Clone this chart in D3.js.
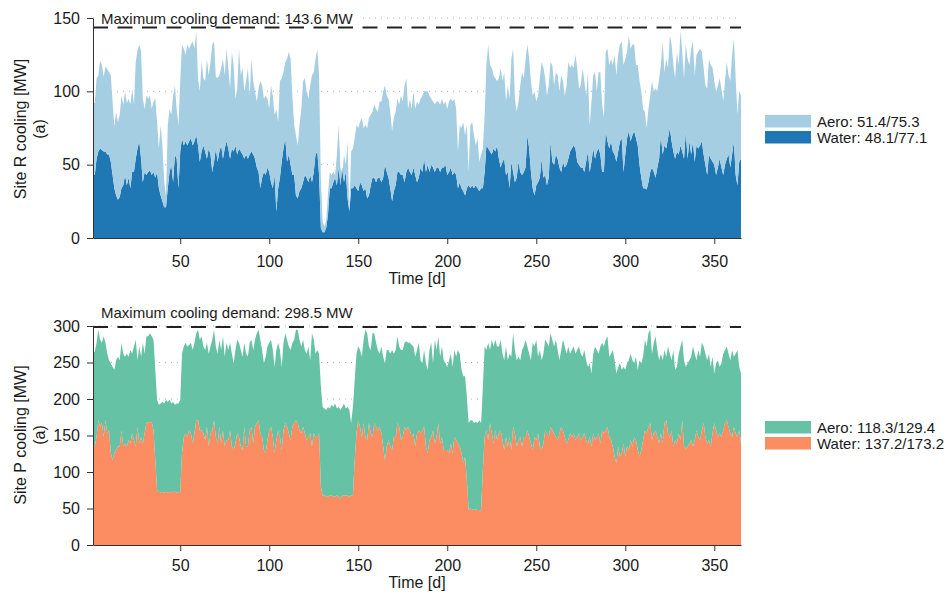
<!DOCTYPE html>
<html>
<head>
<meta charset="utf-8">
<script src="https://cdn.jsdelivr.net/npm/d3@7/dist/d3.min.js"></script>
<style>
body { margin: 0; background: #fff; }
svg { font-family: "Liberation Sans", Arial, Helvetica, sans-serif; }
.grid line { stroke: #b5b5b5; stroke-dasharray: 1,5; }
.axis text { font-size: 16px; fill: #1a1a1a; }
.axis line, .axis path { stroke: #333; }
</style>
</head>
<body>
<svg id="chart" width="945" height="596"></svg>
<script>
// daily values, day 1..365
var rTotal = [
	92,92,109,111,121,118,110,117,115,113,111,93,76,86,79,84,97,91,100,92,
	95,91,102,91,120,128,132,127,95,88,97,95,97,88,93,95,79,61,77,63,
	38,29,77,88,84,97,104,88,77,107,132,129,125,132,129,132,134,129,141,109,
	100,120,109,107,122,111,120,132,134,110,109,111,116,122,111,129,116,102,127,118,
	95,102,129,111,116,100,107,116,97,122,107,100,93,102,107,104,95,97,95,88,
	104,97,84,88,79,107,109,113,120,122,127,122,97,77,70,63,77,88,107,109,
	100,95,104,
	111,113,122,129,111,40,11,8,12,30,45,43,45,43,57,77,48,43,57,50,
	66,18,59,61,68,77,75,79,82,75,77,75,82,84,86,91,88,86,93,93,
	100,104,97,95,86,73,82,86,95,91,97,93,104,109,88,95,88,100,88,93,
	91,95,97,100,100,100,97,95,93,91,93,93,91,95,91,93,88,93,95,93,
	95,88,59,77,75,79,70,77,45,77,79,70,63,68,52,57,61,84,118,132,
	118,116,111,109,107,109,116,107,113,93,104,95,122,129,95,86,93,104,113,
	109,122,132,122,107,97,100,93,97,109,120,116,109,97,104,120,118,104,113,111,
	100,111,107,97,104,120,116,118,116,125,116,102,104,116,107,97,113,77,93,111,
	113,100,113,113,91,82,127,129,118,122,118,125,111,125,132,134,118,122,127,138,
	129,132,132,118,118,107,100,88,86,75,88,97,107,100,102,100,109,118,134,113,
	122,116,138,132,118,109,127,118,141,127,109,132,122,118,129,134,111,125,127,129,
	127,116,104,102,122,118,116,107,100,104,109,102,93,107,120,111,107,125,136,109,
	84,100,97
];
var rWater = [
	43,43,54,59,61,60,59,59,57,57,52,43,34,29,26,28,34,36,43,36,
	41,34,45,45,54,61,66,54,38,45,43,45,46,43,45,41,45,34,29,25,
	21,21,34,45,50,38,57,54,34,59,68,63,66,63,66,68,63,66,70,63,
	52,59,63,59,54,61,57,45,52,61,52,59,63,54,61,66,61,54,61,59,
	63,57,61,59,57,54,57,54,57,59,57,54,48,45,34,41,45,43,48,45,
	38,34,43,18,34,41,52,61,68,52,57,50,43,43,29,27,32,34,38,43,
	41,38,43,
	38,45,57,59,43,7,4,4,7,16,34,34,38,41,36,48,36,48,38,45,
	27,18,34,34,36,34,32,38,36,32,34,27,29,36,41,41,38,41,41,38,
	41,50,45,41,34,25,32,36,45,45,43,43,38,45,48,45,43,48,43,38,
	41,48,45,54,45,50,45,50,48,45,48,48,45,48,48,50,43,45,48,43,
	45,43,34,38,34,32,29,34,36,34,36,34,36,34,32,34,34,45,63,61,
	59,57,61,59,63,54,48,52,54,43,45,34,52,45,38,41,52,45,43,
	45,48,70,61,45,34,29,36,38,41,54,41,43,36,41,66,52,50,57,54,
	48,45,52,48,50,54,59,61,63,61,52,50,48,48,45,52,59,45,52,61,
	54,59,61,57,45,45,73,66,61,66,59,57,52,59,66,68,45,57,68,73,
	66,70,73,68,63,50,41,34,34,33,38,45,48,45,41,48,54,70,57,63,
	61,68,75,66,59,54,59,57,63,59,54,73,54,66,57,66,52,63,61,63,
	66,57,50,43,57,54,52,50,43,48,54,48,43,50,54,57,48,57,66,43,
	36,52,54
];
var pTotal = [
	262,265,277,295,281,277,286,277,262,253,249,244,240,253,258,253,277,262,258,262,
	258,267,262,272,281,253,272,258,277,262,286,286,290,286,281,240,199,192,194,196,
	194,199,196,199,194,196,192,194,194,199,262,272,277,272,274,277,267,277,290,295,
	281,286,272,267,277,262,272,281,295,272,262,281,267,286,258,277,267,277,262,249,
	267,281,277,267,258,277,262,258,277,281,267,281,290,295,281,267,249,258,272,277,
	281,267,244,267,277,267,244,277,290,281,272,267,277,281,295,295,281,272,281,267,
	262,272,253,
	290,281,262,267,262,217,189,187,185,189,187,192,189,194,187,189,185,189,194,187,
	189,185,167,189,226,262,272,267,258,281,295,290,272,267,290,290,277,267,262,272,
	258,249,267,267,262,267,262,267,286,272,267,267,277,279,277,277,274,272,258,267,
	277,253,249,267,249,240,267,277,249,281,267,286,258,272,253,249,244,253,262,244,
	267,258,267,262,240,231,231,203,167,171,171,167,169,167,171,167,217,272,267,277,
	267,281,272,281,272,272,281,262,253,272,253,262,258,290,267,253,258,253,267,
	272,281,272,262,253,277,272,281,258,267,253,262,281,277,272,290,281,272,281,267,
	253,267,281,272,262,272,262,267,272,262,267,272,262,258,267,253,244,249,235,262,
	272,267,262,272,277,272,281,286,258,262,267,253,235,244,249,240,244,240,249,253,
	262,253,249,258,240,253,249,258,281,272,290,295,262,277,286,267,253,262,253,267,
	258,272,262,253,267,240,244,262,272,281,253,244,249,253,258,272,262,253,267,258,
	277,272,262,253,262,244,258,235,249,253,244,249,262,267,272,262,253,267,258,262,
	267,244,235
];
var pWater = [
	139,135,148,171,162,167,148,171,153,157,126,116,126,130,135,135,157,135,139,135,
	144,139,153,144,135,162,139,148,139,153,167,169,167,169,157,116,75,73,72,73,
	72,73,72,73,72,73,73,72,73,72,126,148,153,148,157,153,139,153,171,171,
	157,157,153,144,162,135,153,157,171,148,139,162,139,157,135,144,144,157,135,130,
	139,153,148,135,130,162,135,135,157,162,139,162,167,171,153,148,130,126,144,157,
	162,148,126,144,157,148,130,157,167,162,153,144,162,167,171,167,157,153,162,153,
	144,148,153,
	135,153,148,148,153,80,68,68,66,66,68,68,66,66,68,66,64,68,68,68,
	68,66,68,68,116,153,171,162,148,167,148,144,167,153,148,167,162,157,162,153,
	135,116,135,144,135,130,148,148,167,162,144,148,162,157,162,157,148,153,135,153,
	157,153,157,162,135,126,144,148,157,139,148,167,139,148,130,130,130,126,139,126,
	148,144,139,135,126,112,121,89,48,50,49,48,49,48,48,47,103,148,157,144,
	167,153,139,157,144,153,157,144,130,148,135,148,130,162,153,135,144,148,135,
	148,148,157,148,139,130,148,144,153,135,130,139,157,153,148,162,157,153,148,144,
	153,162,157,148,139,144,153,148,153,144,148,153,144,148,153,144,139,148,135,153,
	144,148,153,139,157,153,157,162,148,144,135,121,112,135,121,126,139,121,135,130,
	144,135,148,144,130,121,130,144,157,153,162,167,144,153,157,148,139,153,139,167,
	171,153,148,157,135,144,139,153,144,171,135,132,135,139,144,135,144,157,148,144,
	157,167,148,139,144,135,153,167,157,148,153,148,157,167,171,162,153,148,162,153,
	148,157,139
];

var xTicks = [50, 100, 150, 200, 250, 300, 350];
var rTicks = [0, 50, 100, 150];
var pTicks = [0, 50, 100, 150, 200, 250, 300];
var rLegend = ['Aero: 51.4/75.3', 'Water: 48.1/77.1'];
var pLegend = ['Aero: 118.3/129.4', 'Water: 137.2/173.2'];
var rMaxDemand = 143.6;
var pMaxDemand = 298.5;

var svg = d3.select('#chart');

var x = d3.scaleLinear().domain([1, 365]).range([93, 741]);

function drawPanel(o) {
	var y = d3.scaleLinear().domain([0, o.ticks[o.ticks.length - 1]]).range([o.bottom, o.top]);
	var g = svg.append('g');

	var rows = o.total.map(function(t, i) {
		return { day: i + 1, water: o.water[i], aero: t - o.water[i] };
	});
	var series = d3.stack().keys(['water', 'aero'])(rows);

	// dotted grid behind the areas
	g.append('g').attr('class', 'grid')
		.selectAll('line')
		.data(o.ticks.slice(1))
		.join('line')
		.attr('x1', x.range()[0]).attr('x2', x.range()[1])
		.attr('y1', function(d) { return y(d); })
		.attr('y2', function(d) { return y(d); });

	var area = d3.area()
		.x(function(d) { return x(d.data.day); })
		.y0(function(d) { return y(d[0]); })
		.y1(function(d) { return y(d[1]); });

	g.selectAll('path.layer')
		.data(series)
		.join('path')
		.attr('class', 'layer')
		.attr('fill', function(d) { return o.colors[d.key]; })
		.attr('d', area);

	// max demand line and label
	if (o.labelBg) {
		g.append('rect')
			.attr('x', 97).attr('y', o.labelY - 13)
			.attr('width', 262).attr('height', 14)
			.attr('fill', '#fff');
	}
	g.append('line')
		.attr('x1', x.range()[0]).attr('x2', x.range()[1])
		.attr('y1', y(o.maxDemand)).attr('y2', y(o.maxDemand))
		.attr('stroke', '#222')
		.attr('stroke-width', 2)
		.attr('stroke-dasharray', '15,9.5');
	g.append('text')
		.attr('x', 101).attr('y', o.labelY)
		.attr('font-size', 15).attr('fill', '#1a1a1a')
		.text('Maximum cooling demand: ' + o.maxDemand + ' MW');

	g.append('g').attr('class', 'axis')
		.attr('transform', 'translate(' + x.range()[0] + ',0)')
		.call(d3.axisLeft(y).tickValues(o.ticks).tickSize(6).tickSizeOuter(0).tickPadding(7));

	var xa = g.append('g').attr('class', 'axis')
		.attr('transform', 'translate(0,' + o.bottom + ')')
		.call(d3.axisBottom(x).tickValues(xTicks).tickSize(6).tickSizeOuter(0).tickPadding(o.xPad));
	xa.select('.domain').attr('stroke', '#666');

	g.append('text')
		.attr('x', (x.range()[0] + x.range()[1]) / 2).attr('y', o.bottom + o.xLabelDy)
		.attr('text-anchor', 'middle').attr('font-size', 16).attr('fill', '#1a1a1a')
		.text('Time [d]');

	var yl = g.append('text')
		.attr('transform', 'translate(26,' + o.yMid + ') rotate(-90)')
		.attr('text-anchor', 'middle').attr('font-size', 16).attr('fill', '#1a1a1a');
	yl.append('tspan').attr('x', 0).attr('y', 0).text(o.yLabel);
	yl.append('tspan').attr('x', 0).attr('y', 19).text('(a)');

	// legend, aero on top
	var keys = ['aero', 'water'];
	var lg = g.append('g').attr('transform', 'translate(765,' + o.legendY + ')');
	keys.forEach(function(k, i) {
		lg.append('rect')
			.attr('x', 0).attr('y', i * 16)
			.attr('width', 46).attr('height', 12.5)
			.attr('fill', o.colors[k]);
		lg.append('text')
			.attr('x', 52).attr('y', i * 16 + 11.5)
			.attr('font-size', 15).attr('fill', '#1a1a1a')
			.text(o.legend[i]);
	});
}

drawPanel({
	total: rTotal, water: rWater, ticks: rTicks,
	top: 18, bottom: 238,
	colors: { water: '#1f78b4', aero: '#a6cee3' },
	maxDemand: rMaxDemand, labelY: 24, labelBg: true,
	legend: rLegend, legendY: 115,
	yLabel: 'Site R cooling [MW]', yMid: 129,
	xPad: 12, xLabelDy: 46
});

drawPanel({
	total: pTotal, water: pWater, ticks: pTicks,
	top: 326, bottom: 545,
	colors: { water: '#fc8d62', aero: '#66c2a5' },
	maxDemand: pMaxDemand, labelY: 318, labelBg: false,
	legend: pLegend, legendY: 421,
	yLabel: 'Site P cooling [MW]', yMid: 435,
	xPad: 9, xLabelDy: 43
});
</script>
</body>
</html>
